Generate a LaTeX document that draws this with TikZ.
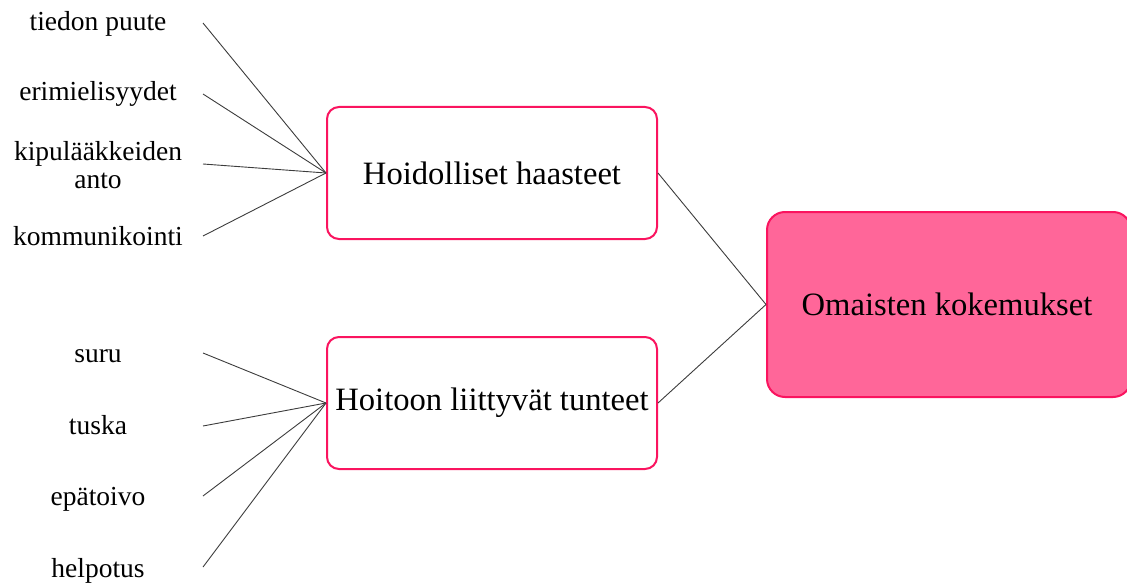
\documentclass[tikz,border=0pt]{standalone}
\usepackage{fontspec}
\setmainfont{Liberation Serif}
\definecolor{rim}{RGB}{250,20,95}
\definecolor{rosefill}{RGB}{255,102,153}
\definecolor{wire}{RGB}{60,60,60}
\begin{document}
\begin{tikzpicture}[x=1pt,y=-1pt,
  leaf/.style={anchor=base,align=center,inner sep=0pt,
    font=\fontsize{27.5}{28}\selectfont},
  theme/.style={draw=rim,line width=2pt,rounded corners=12pt,fill=white,
    minimum width=330pt,minimum height=132pt,inner sep=0pt,
    font=\fontsize{32.6}{36}\selectfont},
  core/.style={draw=rim,line width=2pt,rounded corners=18pt,fill=rosefill,
    minimum width=364pt,minimum height=185pt,inner sep=0pt,
    font=\fontsize{32.6}{36}\selectfont},
  link/.style={draw=wire,line width=0.9pt}]
\useasboundingbox (0,0) rectangle (1127,583);

% category boxes
\node[theme] (care) at (492,173) {Hoidolliset haasteet};
\node[theme] (feel) at (492,403) {Hoitoon liittyvät tunteet};
\node[core,anchor=west] (exp) at (766,304.5) {\hspace*{-4pt}Omaisten kokemukset};

% leaf labels
\node[leaf] (l1) at (98,31) {tiedon puute};
\node[leaf] (l2) at (98,101) {erimielisyydet};
\node[leaf,anchor=north] (l3) at (98,141) {kipulääkkeiden\\anto};
\node[leaf] (l4) at (98,245) {kommunikointi};
\node[leaf] (l5) at (98,362) {suru};
\node[leaf] (l6) at (98,434) {tuska};
\node[leaf] (l7) at (98,505) {epätoivo};
\node[leaf] (l8) at (98,577) {helpotus};

% free ends of the spokes beside the labels
\coordinate (s1) at (203,23);
\coordinate (s2) at (203,94);
\coordinate (s3) at (203,164);
\coordinate (s4) at (203,236);
\coordinate (s5) at (203,353);
\coordinate (s6) at (203,426);
\coordinate (s7) at (203,496);
\coordinate (s8) at (203,567);

\foreach \i in {1,2,3,4} \draw[link] (s\i) -- (care.west);
\foreach \i in {5,6,7,8} \draw[link] (s\i) -- (feel.west);
\draw[link] (care.east) -- (exp.west);
\draw[link] (feel.east) -- (exp.west);
\end{tikzpicture}
\end{document}
